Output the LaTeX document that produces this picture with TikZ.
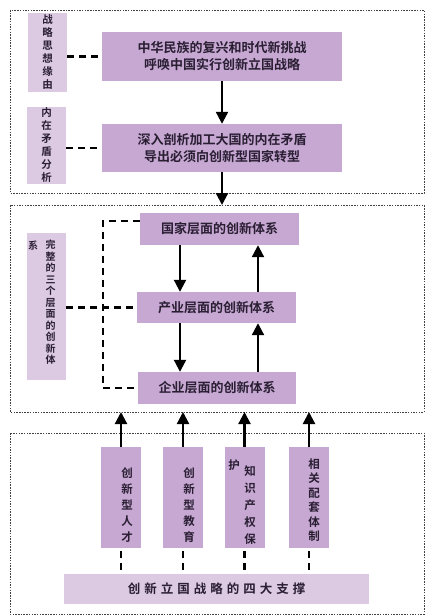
\documentclass[tikz,border=0pt]{standalone}
\usepackage{fontspec}
\setmainfont{Noto Sans CJK SC}[BoldFont={Noto Sans CJK SC Bold}]
\usepackage{tikz}
\usepackage{xcolor}
\usetikzlibrary{arrows.meta}

\definecolor{boxpurple}{HTML}{C6A8D3}
\definecolor{labpurple}{HTML}{DCCAE3}
\definecolor{inkdark}{HTML}{2A1E33}

\begin{document}
\begin{tikzpicture}[x=1pt, y=-1pt,
  every node/.style={inner sep=0pt, text=inkdark, font=\bfseries},
  mainbox/.style={fill=boxpurple, align=center, font=\bfseries\fontsize{13}{17}\selectfont},
  labbox/.style={fill=labpurple, align=center, font=\bfseries\fontsize{10.5}{13}\selectfont},
  supbox/.style={fill=boxpurple, align=center, minimum width=40pt, minimum height=101pt, font=\bfseries\fontsize{11.5}{16}\selectfont},
  frame/.style={draw=black!75, line width=1pt, dash pattern=on 1.5pt off 1.2pt},
  arr/.style={line width=2.2pt, -{Triangle[width=12pt,length=12pt]}},
  dashline/.style={line width=2.5pt, dash pattern=on 7pt off 5pt}]
  \useasboundingbox (0,0) rectangle (426,616);

  % three frames
  \draw[frame] (10,10) rectangle (424,193);
  \draw[frame] (10,205) rectangle (424,412);
  \draw[frame] (10,433) rectangle (424,614);
  \coordinate (f2n) at (0,205);
  \coordinate (f2s) at (0,412);

  % top part
  \node[labbox, minimum width=39pt, minimum height=79pt] (lab1) at (47.5,52.5) {战\\略\\思\\想\\缘\\由};
  \node[labbox, minimum width=39pt, minimum height=77pt] (lab2) at (46.5,145.5) {内\\在\\矛\\盾\\分\\析};
  \node[mainbox, minimum width=240pt, minimum height=49pt] (m1) at (222,56.5) {中华民族的复兴和时代新挑战\\呼唤中国实行创新立国战略};
  \node[mainbox, minimum width=240pt, minimum height=48pt] (m2) at (222,148) {深入剖析加工大国的内在矛盾\\导出必须向创新型国家转型};

  \draw[dashline] (lab1.east |- m1.west) -- (m1.west);
  \draw[dashline] (lab2.east |- m2.west) -- (m2.west);
  \draw[arr] (m1.south) -- (m2.north);
  \draw[arr] (m2.south) -- (m2.south |- f2n);

  % middle part
  \node[labbox, minimum width=39pt, minimum height=147pt] (lab3) at (46.5,306.5) {};
  \node[font=\bfseries\fontsize{10}{11.5}\selectfont, align=center, anchor=north] (lab3t) at (50.5,240) {完\\整\\的\\三\\个\\层\\面\\的\\创\\新\\体};
  \node[font=\bfseries\fontsize{10}{11.5}\selectfont] (lab3x) at (33,246) {系};

  \node[mainbox, minimum width=159pt, minimum height=32pt] (guo) at (219.5,229) {国家层面的创新体系};
  \node[mainbox, minimum width=159pt, minimum height=31pt] (chan) at (216.5,307.5) {产业层面的创新体系};
  \node[mainbox, minimum width=158pt, minimum height=32pt] (qi) at (217,388) {企业层面的创新体系};

  \coordinate (dn) at (180,0);
  \coordinate (up) at (258,0);
  \coordinate (br) at (103,0);
  \draw[arr] (guo.south -| dn) -- (chan.north -| dn);
  \draw[arr] (chan.south -| dn) -- (qi.north -| dn);
  \draw[arr] (qi.north -| up) -- (chan.south -| up);
  \draw[arr] (chan.north -| up) -- (guo.south -| up);

  \draw[dashline] ([yshift=8pt]guo.west) -- ([yshift=8pt]guo.west -| br) -- (qi.west -| br) -- (qi.west);
  \draw[dashline] (lab3.east |- chan.west) -- (chan.west);

  % bottom part
  \node[supbox] (s1) at (121,497.5) {};
  \node[supbox] (s2) at (183,497.5) {};
  \node[supbox] (s3) at (244.5,497.5) {};
  \node[supbox] (s4) at (309,497.5) {};
  \node[align=center, font=\bfseries\fontsize{11.5}{16}\selectfont] (s1t) at (127,505) {创\\新\\型\\人\\才};
  \node[align=center, font=\bfseries\fontsize{11.5}{16}\selectfont] (s2t) at (189,505) {创\\新\\型\\教\\育};
  \node[align=center, font=\bfseries\fontsize{11.5}{17}\selectfont] (s3t) at (250,505) {知\\识\\产\\权\\保};
  \node[font=\bfseries\fontsize{11.5}{16}\selectfont] (s3x) at (234,465) {护};
  \node[align=center, font=\bfseries\fontsize{11.5}{14.5}\selectfont] (s4t) at (314,500) {相\\关\\配\\套\\体\\制};

  \node[fill=labpurple, minimum width=305pt, minimum height=30pt, font=\bfseries\fontsize{12.5}{14}\selectfont] (bar) at (216.5,589) {创\hspace{4pt}新\hspace{4pt}立\hspace{4pt}国\hspace{4pt}战\hspace{4pt}略\hspace{4pt}的\hspace{4pt}四\hspace{4pt}大\hspace{4pt}支\hspace{4pt}撑};

  \foreach \s in {s1,s2,s3,s4} {
    \draw[arr] (\s.north) -- (\s.north |- f2s);
    \draw[dashline] ([yshift=-3pt]\s.south) -- (\s.south |- bar.north);
  }
\end{tikzpicture}
\end{document}
